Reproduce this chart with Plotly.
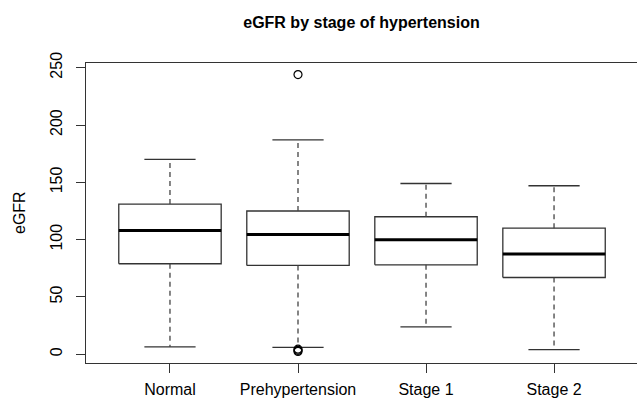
import plotly.graph_objects as go

# ---- data ----
categories = ["Normal", "Prehypertension", "Stage 1", "Stage 2"]
lower_whisker = [6.5, 6, 24, 4]
q1 = [79, 77.5, 78, 67]
median = [108, 104.5, 100, 87.5]
q3 = [131, 125, 120, 110]
upper_whisker = [170, 187, 149, 147]
outliers = [[], [244, 2.5, 3.5, 4.5], [], []]
y_ticks = [0, 50, 100, 150, 200, 250]

title_text = "eGFR by stage of hypertension"
y_title = "eGFR"

LINE = "#333333"
FONT = "Liberation Sans, Arial, sans-serif"
HALF_BOX = 0.4
HALF_CAP = 0.2

fig = go.Figure()

for i, cat in enumerate(categories):
    pos = i + 1
    # box rectangle
    fig.add_trace(go.Scatter(
        x=[pos - HALF_BOX, pos + HALF_BOX, pos + HALF_BOX, pos - HALF_BOX, pos - HALF_BOX],
        y=[q1[i], q1[i], q3[i], q3[i], q1[i]],
        mode="lines", line=dict(color=LINE, width=1.3),
        hoverinfo="skip", showlegend=False))
    # median
    fig.add_trace(go.Scatter(
        x=[pos - HALF_BOX, pos + HALF_BOX], y=[median[i], median[i]],
        mode="lines", line=dict(color="black", width=3),
        hoverinfo="skip", showlegend=False))
    # whiskers (dashed)
    fig.add_trace(go.Scatter(
        x=[pos, pos, None, pos, pos],
        y=[q3[i], upper_whisker[i], None, q1[i], lower_whisker[i]],
        mode="lines", line=dict(color="#444444", width=1.3, dash="5px,4px"),
        hoverinfo="skip", showlegend=False))
    # caps
    fig.add_trace(go.Scatter(
        x=[pos - HALF_CAP, pos + HALF_CAP, None, pos - HALF_CAP, pos + HALF_CAP],
        y=[upper_whisker[i], upper_whisker[i], None, lower_whisker[i], lower_whisker[i]],
        mode="lines", line=dict(color=LINE, width=1.3),
        hoverinfo="skip", showlegend=False))
    # outliers
    if outliers[i]:
        fig.add_trace(go.Scatter(
            x=[pos] * len(outliers[i]), y=outliers[i],
            mode="markers",
            marker=dict(symbol="circle-open", size=8, color="black", line=dict(width=1.2)),
            hoverinfo="skip", showlegend=False))

fig.update_layout(
    width=637, height=403,
    margin=dict(l=86, r=0, t=63, b=40),
    paper_bgcolor="white", plot_bgcolor="white",
    font=dict(family=FONT, size=16, color="black"),
    title=dict(text="<b>" + title_text + "</b>", x=0.5, xref="paper", xanchor="center",
               y=1 - 22 / 403, yanchor="middle", font=dict(size=16),
               automargin=False),
    xaxis=dict(
        range=[0.344, 4.648], tickvals=[1, 2, 3, 4], ticktext=categories,
        showgrid=False, zeroline=False, showline=True, mirror=True,
        linecolor=LINE, linewidth=1.3, automargin=False,
        ticks="outside", ticklen=9, tickcolor=LINE, tickwidth=1.3,
        ticklabelstandoff=3, tickfont=dict(size=16)),
    yaxis=dict(
        range=[-7.6, 254.1], tickvals=y_ticks, tickangle=-90,
        showgrid=False, zeroline=False, showline=True, mirror=False,
        linecolor=LINE, linewidth=1.3, automargin=False,
        ticks="outside", ticklen=9, tickcolor=LINE, tickwidth=1.3,
        ticklabelstandoff=7, tickfont=dict(size=16)),
    annotations=[dict(text=y_title, textangle=-90, xref="paper", yref="paper",
                      x=(19 - 86) / 551, y=0.5, xanchor="center", yanchor="middle",
                      showarrow=False, font=dict(size=16))],
)

fig.write_html(
    "out.html",
    config={"displayModeBar": False},
    post_script="document.body.style.margin='0';document.body.style.overflow='hidden';",
)
